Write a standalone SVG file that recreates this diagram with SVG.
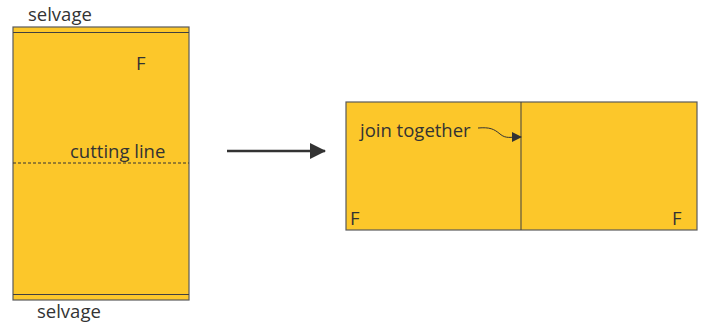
<svg xmlns="http://www.w3.org/2000/svg" width="704" height="324" viewBox="0 0 704 324">
<style>
.fab{fill:#FCC72A;stroke:#5a5a5a;stroke-width:1.2}
.ln{stroke:#404040;stroke-width:1;fill:none}
text{font-family:"Open Sans","Noto Sans",sans-serif;font-size:18.5px;fill:#333}
</style>
<defs>
<marker id="ah" markerWidth="10" markerHeight="10" refX="9" refY="5" orient="auto" markerUnits="userSpaceOnUse">
<path d="M0,0 L10,5 L0,10 Z" fill="#333"/>
</marker>
<marker id="ahb" markerWidth="16" markerHeight="16" refX="15" refY="8" orient="auto" markerUnits="userSpaceOnUse">
<path d="M0,0 L16,8 L0,16 Z" fill="#333"/>
</marker>
</defs>
<g id="fabric-before">
<rect class="fab" x="13" y="27" width="176" height="273"/>
<line class="ln" x1="13" y1="32.5" x2="189" y2="32.5"/>
<line class="ln" x1="13" y1="294.5" x2="189" y2="294.5"/>
<line x1="13" y1="163" x2="189" y2="163" stroke="#333" stroke-width="1" stroke-dasharray="3,2"/>
<text x="28" y="21">selvage</text>
<text x="37" y="318">selvage</text>
<text x="136" y="70">F</text>
<text x="70" y="158">cutting line</text>
</g>
<g id="fabric-after">
<rect class="fab" x="346" y="102" width="351" height="128"/>
<line class="ln" x1="521" y1="102" x2="521" y2="230" stroke="#333"/>
<text x="360" y="137">join together</text>
<text x="350" y="225">F</text>
<text x="672" y="225">F</text>
</g>
<g id="connectors">
<line x1="227" y1="151" x2="325" y2="151" stroke="#333" stroke-width="2.5" marker-end="url(#ahb)"/>
<path d="M478,128 C490,127 494,129 500,134 C506,139 510,137 521,137" fill="none" stroke="#333" stroke-width="1" marker-end="url(#ah)"/>
</g>
</svg>
